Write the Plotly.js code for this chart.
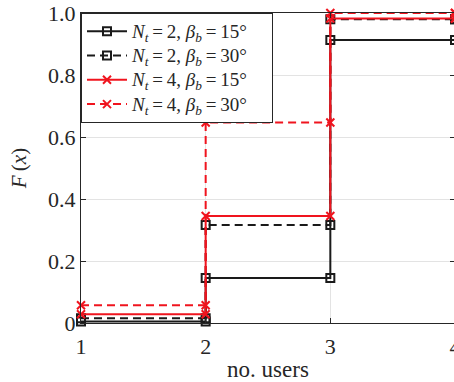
<!DOCTYPE html>
<html>
<head>
<meta charset="utf-8">
<script src="https://cdn.plot.ly/plotly-3.0.1.min.js"></script>
<style>
html,body{margin:0;padding:0;overflow:hidden;background:#fff;width:454px;height:382px;}
#chart{width:462px;height:382px;}
</style>
</head>
<body>
<div id="chart"></div>
<script>
// Data
const users = [1, 2, 3, 4];
const nt2_b15 = [0.005, 0.145, 0.913, 0.913];
const nt2_b30 = [0.015, 0.316, 0.980, 0.980];
const nt4_b15 = [0.028, 0.345, 0.982, 0.982];
const nt4_b30 = [0.057, 0.647, 1.000, 1.000];
const ntValues = [2, 2, 4, 4];
const betaValues = [15, 30, 15, 30];
const yTickVals = [0, 0.2, 0.4, 0.6, 0.8, 1.0];
const yTickText = ['0', '0.2', '0.4', '0.6', '0.8', '1.0'];
const xTickVals = [1, 2, 3, 4];

function seriesName(nt, beta) {
  return '<span style="font-size:19px"><i>N</i><sub><i>t</i></sub>\u2009=\u2009' + nt +
    ', <i>\u03b2</i><sub><i>b</i></sub>\u2009=\u2009' + beta + '\u00b0\u00a0\u00a0\u00a0\u00a0</span>';
}

// stairs: expand to vertices (like MATLAB stairs)
function stairs(x, y) {
  const xs = [], ys = [];
  for (let i = 0; i < x.length; i++) {
    if (i > 0) { xs.push(x[i]); ys.push(y[i - 1]); }
    xs.push(x[i]); ys.push(y[i]);
  }
  return {xs, ys};
}

const styles = [
  {color: '#1a1a1a', dash: 'solid', symbol: 'square-open'},
  {color: '#1a1a1a', dash: '8px,5px', symbol: 'square-open'},
  {color: '#f0141e', dash: 'solid', symbol: 'x-thin-open'},
  {color: '#f0141e', dash: '8px,5px', symbol: 'x-thin-open'}
];
const data = [nt2_b15, nt2_b30, nt4_b15, nt4_b30];

const traces = data.map((y, i) => {
  const s = stairs(users, y);
  return {
    x: s.xs, y: s.ys, type: 'scatter', mode: 'lines+markers',
    name: seriesName(ntValues[i], betaValues[i]), cliponaxis: false,
    line: {color: styles[i].color, width: 2, dash: styles[i].dash},
    marker: {symbol: styles[i].symbol, size: 8, color: styles[i].color,
             line: {color: styles[i].color, width: 2}}
  };
});

const fam = 'Liberation Serif';
const ink = '#262626';

const layout = {
  width: 462, height: 382,
  margin: {l: 81, r: 7, t: 13, b: 59},
  paper_bgcolor: '#fff', plot_bgcolor: '#fff',
  font: {family: fam, size: 20, color: ink},
  showlegend: true,
  legend: {
    x: 0, y: 1, xanchor: 'left', yanchor: 'top',
    bgcolor: '#fff', bordercolor: ink, borderwidth: 1,
    font: {family: fam, size: 16.4, color: ink},
    tracegroupgap: 0, itemwidth: 40
  },
  xaxis: {
    range: [1, 4], tickvals: xTickVals, ticktext: xTickVals.map(String),
    showgrid: true, gridcolor: '#e3e3e3', zeroline: false,
    showline: true, linecolor: ink, linewidth: 1, mirror: 'ticks',
    ticks: 'inside', ticklen: 5, tickcolor: ink, ticklabelstandoff: 4,
    title: {text: 'no. users', standoff: 2, font: {family: fam, size: 23, color: ink}},
    tickfont: {family: fam, size: 22, color: ink}
  },
  yaxis: {
    range: [0, 1], tickvals: yTickVals, ticktext: yTickText,
    showgrid: true, gridcolor: '#e3e3e3', zeroline: false,
    showline: true, linecolor: ink, linewidth: 1, mirror: 'ticks',
    ticks: 'inside', ticklen: 5, tickcolor: ink, ticklabelstandoff: 0,
    title: {text: '<i>F</i>\u2009(<i>x</i>)', standoff: 15, font: {family: fam, size: 21, color: ink}},
    tickfont: {family: fam, size: 22, color: ink}
  }
};

Plotly.newPlot('chart', traces, layout, {displayModeBar: false, staticPlot: true});
</script>
</body>
</html>
